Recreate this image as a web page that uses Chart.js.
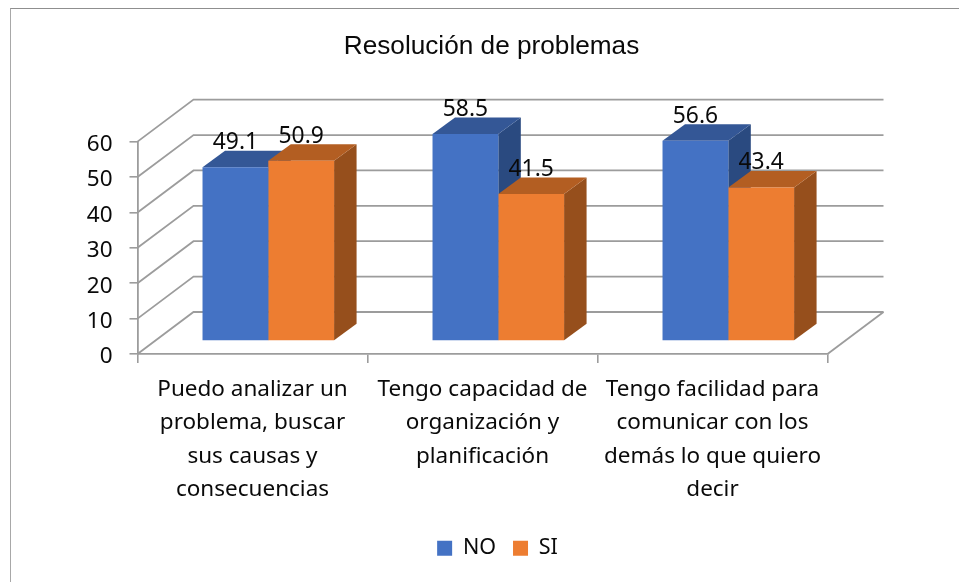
<!DOCTYPE html>
<html><head><meta charset="utf-8">
<script src="https://cdn.jsdelivr.net/npm/chart.js@4"></script>
<style>
html,body{margin:0;padding:0;background:#fff;overflow:hidden}
#wrap{position:relative;width:959px;height:583px}
#frame{position:absolute;left:10px;top:8px;right:0;bottom:1px;border-left:1.5px solid #a8a8a8;border-top:1.5px solid #8f8f8f;box-sizing:border-box}
canvas{position:absolute;left:0;top:0}
</style></head><body>
<div id="wrap"><div id="frame"></div><canvas id="c" width="959" height="583"></canvas></div>
<script>
const chartTitle = "Resolución de problemas";
const categories = [
  ["Puedo analizar un","problema, buscar","sus causas y","consecuencias"],
  ["Tengo capacidad de","organización y","planificación"],
  ["Tengo facilidad para","comunicar con los","demás lo que quiero","decir"]
];
const seriesNames = ["NO","SI"];
const valuesNo = [49.1,58.5,56.6];
const valuesSi = [50.9,41.5,43.4];
const yTicksMax = 60;

const COL = {front:["#4472C4","#ED7D31"],top:["#345796","#B35E22"],side:["#2A4A80","#964F1C"]};
const GRID = "#9c9c9c", TXT = "#0a0a0a";
const FONT = '"Noto Sans", sans-serif';
const WALL = {dx:56,dy:-42}, BAR = {dx:15.8,dy:-13}, DEPTH = {dx:22.5,dy:-16.5};
const AXIS_L = 137.5, AXIS_R = 827.5, AXIS_B = 354, AXIS_T = 141.6, PADL = 24, PADB = 14;

function line(ctx,pts){ctx.beginPath();pts.forEach((p,i)=>i?ctx.lineTo(p[0],p[1]):ctx.moveTo(p[0],p[1]));ctx.stroke();}
function poly(ctx,pts,col){ctx.fillStyle=col;ctx.beginPath();pts.forEach((p,i)=>i?ctx.lineTo(p[0],p[1]):ctx.moveTo(p[0],p[1]));ctx.closePath();ctx.fill();}

const bars3d = {
  id:"bars3d",
  afterLayout(chart){ chart.legend.left+=6; chart.legend.right+=6; },
  beforeDatasetsDraw(chart){
    const {ctx,scales:{x,y}} = chart;
    ctx.save();
    ctx.strokeStyle=GRID;ctx.lineWidth=1.8;
    y.ticks.forEach(t=>{
      const py=y.getPixelForValue(t.value);
      line(ctx,[[x.left,py],[x.left+WALL.dx,py+WALL.dy],[x.right+WALL.dx,py+WALL.dy]]);
    });
    const b=y.getPixelForValue(0);
    line(ctx,[[x.right,b],[x.right+WALL.dx,b+WALL.dy]]);
    chart.data.datasets.forEach((ds,i)=>{
      chart.getDatasetMeta(i).data.forEach((el,j)=>{
        const p=el.getProps(["x","y","base","width"],false);
        const l=p.x-p.width/2+BAR.dx, r=p.x+p.width/2+BAR.dx, t=p.y+BAR.dy, bt=p.base+BAR.dy;
        poly(ctx,[[r,t],[r+DEPTH.dx,t+DEPTH.dy],[r+DEPTH.dx,bt+DEPTH.dy],[r,bt]],COL.side[i]);
        poly(ctx,[[l,t],[l+DEPTH.dx,t+DEPTH.dy],[r+DEPTH.dx,t+DEPTH.dy],[r,t]],COL.top[i]);
      });
    });
    ctx.restore();
    ctx.save();
    ctx.translate(BAR.dx,BAR.dy);
  },
  afterDatasetsDraw(chart){
    const ctx=chart.ctx;
    ctx.restore();
    ctx.save();
    ctx.fillStyle=TXT;ctx.font='22.8px '+FONT;ctx.textAlign="center";ctx.textBaseline="middle";
    chart.data.datasets.forEach((ds,i)=>{
      chart.getDatasetMeta(i).data.forEach((el,j)=>{
        const p=el.getProps(["x","y"],false);
        ctx.fillText(ds.data[j].toFixed(1),p.x+BAR.dx,p.y+BAR.dy-24.5);
      });
    });
    ctx.restore();
  }
};

new Chart(document.getElementById("c"),{
  type:"bar",
  data:{labels:categories,datasets:[
    {label:seriesNames[0],data:valuesNo,backgroundColor:COL.front[0],clip:false},
    {label:seriesNames[1],data:valuesSi,backgroundColor:COL.front[1],clip:false}
  ]},
  plugins:[bars3d],
  options:{
    responsive:false,animation:false,
    layout:{padding:{left:PADL,right:0,top:0,bottom:PADB}},
    datasets:{bar:{categoryPercentage:0.572,barPercentage:1}},
    plugins:{
      tooltip:{enabled:false},
      title:{display:true,text:chartTitle,color:TXT,font:{family:'"Liberation Sans", Arial, sans-serif',size:26.2,weight:"normal",lineHeight:1.2},padding:{top:31,bottom:79.2}},
      legend:{position:"bottom",labels:{color:TXT,font:{family:FONT,size:21.5},boxWidth:15,boxHeight:15,padding:17}}
    },
    scales:{
      x:{
        afterFit(s){s.height=583-PADB-AXIS_B-s.chart.legend.height;},
        grid:{drawOnChartArea:false,drawTicks:true,tickLength:9,color:GRID,lineWidth:1.6},
        border:{display:true,color:GRID,width:1.8},
        ticks:{color:TXT,font:{family:FONT,size:22.5,lineHeight:1.48},padding:10,maxRotation:0,autoSkip:false}
      },
      y:{
        min:0,max:yTicksMax,
        afterFit(s){
          s.width=AXIS_L-PADL;
          if(!s._shifted){
            s._shifted=true;
            const orig=s._computeLabelItems.bind(s);
            s._computeLabelItems=a=>{const items=orig(a);items.forEach(it=>{it.options.translation[1]+=3;});return items;};
          }
        },
        grid:{drawOnChartArea:false,drawTicks:true,tickLength:8,color:GRID,lineWidth:1.6},
        border:{display:true,color:GRID,width:1.8},
        ticks:{stepSize:10,color:TXT,font:{family:FONT,size:22.5},padding:17}
      },
      spacer:{
        position:"right",
        afterFit(s){s.width=959-AXIS_R;},
        grid:{display:false},border:{display:false},ticks:{display:false}
      }
    }
  }
});
</script></body></html>
